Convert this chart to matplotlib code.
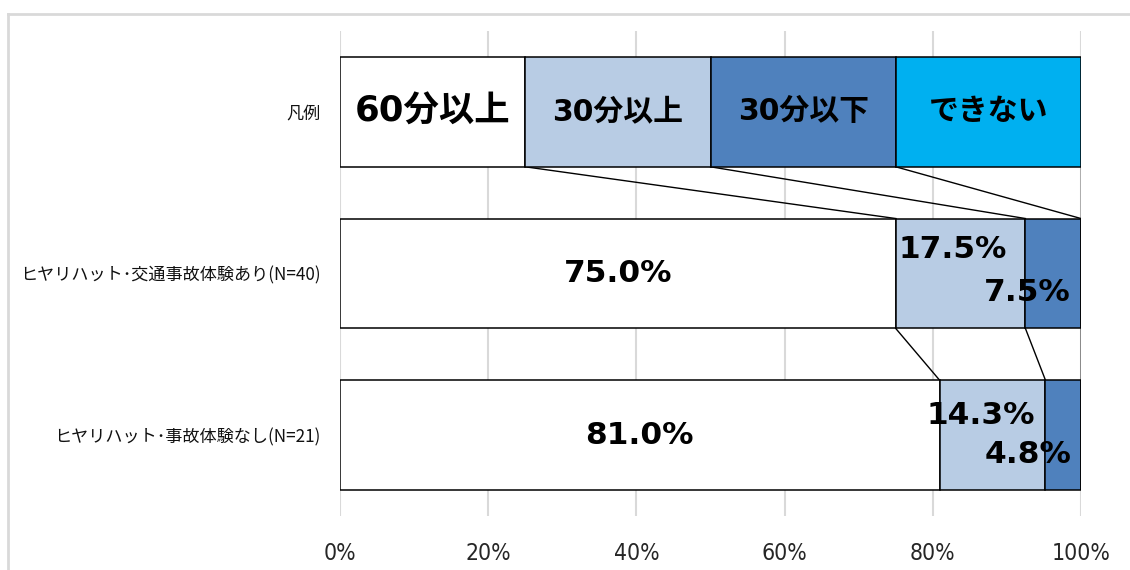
import numpy as np
import matplotlib
matplotlib.use('Agg')
import matplotlib.pyplot as plt
from matplotlib.lines import Line2D

plt.rcParams['font.family'] = ['Noto Sans CJK JP', 'DejaVu Sans']
NUM_FONT = ['DejaVu Sans', 'Noto Sans CJK JP']

# 行（上から）と系列
categories = ['凡例', 'ヒヤリハット･交通事故体験あり(N=40)', 'ヒヤリハット･事故体験なし(N=21)']
series = ['60分以上', '30分以上', '30分以下', 'できない']
over60 = [25, 75.0, 81.0]
over30 = [25, 17.5, 14.3]
under30 = [25, 7.5, 4.8]
cannot = [25, 0, 0]
colors = ['#FFFFFF', '#B8CCE4', '#4F81BD', '#00B0F0']

vals = np.array([over60, over30, under30, cannot], dtype=float)
pct = vals / vals.sum(axis=0) * 100  # 100% 積み上げ
cum = np.cumsum(pct, axis=0)
left = cum - pct

fig = plt.figure(figsize=(11.3, 5.7), dpi=100)
ax = fig.add_axes([340/1130, 1-516/570, 741/1130, 485/570])

ypos = np.arange(len(categories))
h = 0.68
for k in range(len(series)):
    ax.barh(ypos, pct[k], left=left[k], height=h, color=colors[k],
            edgecolor='black', linewidth=1.1, zorder=3)

# 区分線
for r in range(len(categories) - 1):
    for k in range(len(series)):
        ax.plot([cum[k, r], cum[k, r + 1]], [r + h/2, r + 1 - h/2],
                color='black', lw=1.0, zorder=2)

# 凡例行のラベル
for k, name in enumerate(series):
    ax.text(left[k, 0] + pct[k, 0]/2, 0, name, ha='center', va='center',
            family=NUM_FONT, fontsize=25.5 if k == 0 else 21.5,
            fontweight='bold', zorder=5)

# データラベル（小さい区分はずらして配置）
shift = {(1, 1): (-1.1, -0.15), (1, 2): (-3.5, 0.12),
         (2, 1): (-1.6, -0.12), (2, 2): (-4.8, 0.12)}
for r in range(1, len(categories)):
    for k in range(3):
        dx, dy = shift.get((r, k), (0, 0))
        ax.text(left[k, r] + pct[k, r]/2 + dx, r + dy, f'{vals[k, r]:.1f}%',
                ha='center', va='center', family=NUM_FONT, fontsize=22.5,
                fontweight='bold', zorder=5)

ax.set_xlim(0, 100)
ax.set_ylim(2.5, -0.5)
ax.set_xticks([0, 20, 40, 60, 80, 100])
ax.set_xticklabels(['0%', '20%', '40%', '60%', '80%', '100%'],
                   family=['DejaVu Sans'], fontstretch='condensed',
                   fontsize=16.5, color='#262626')
ax.set_yticks(ypos)
ax.set_yticklabels(categories, fontsize=12.3, color='#111111')
ax.tick_params(axis='x', length=0, pad=19)
ax.tick_params(axis='y', length=0, pad=14)
ax.grid(axis='x', color='#D9D9D9', lw=1.5, zorder=0)
for s in ax.spines.values():
    s.set_visible(False)

# 外枠
fig.add_artist(Line2D([8/1130, 1], [1-14/570, 1-14/570], color='#D9D9D9', lw=2))
fig.add_artist(Line2D([8/1130, 8/1130], [0, 1-14/570], color='#D9D9D9', lw=2))

fig.savefig('out.png', dpi=100)
